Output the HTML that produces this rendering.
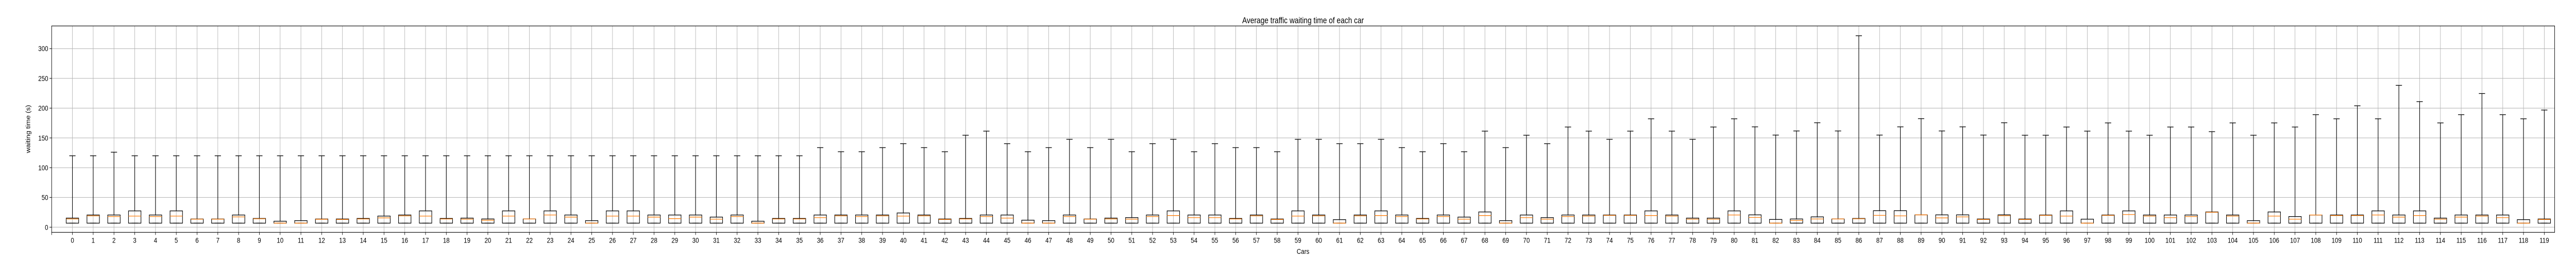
<!DOCTYPE html>
<html><head><meta charset="utf-8"><title>Average traffic waiting time of each car</title>
<style>
html,body{margin:0;padding:0;background:#fff;width:100vw;height:100vh;overflow:hidden;}
svg{display:block;width:100vw;height:100vh;font-family:"Liberation Sans","DejaVu Sans",sans-serif;}
</style></head>
<body>
<svg id="chart" viewBox="0 0 6000 500" preserveAspectRatio="none" xmlns="http://www.w3.org/2000/svg">
<rect x="0" y="0" width="6000" height="500" fill="#fff"/>
<g id="grid"></g>
<g id="boxes"></g>
<rect x="120.3" y="50.3" width="5830" height="400" fill="none" stroke="#000" stroke-width="1.1"/>
<g id="xticks"></g>
<g id="yticks"></g>
<text x="3035" y="45" text-anchor="middle" font-size="16.5" fill="#000">Average traffic waiting time of each car</text>
<text x="3035" y="492" text-anchor="middle" font-size="13.9" fill="#000">Cars</text>
<text x="0" y="0" transform="translate(70,250) rotate(-90)" text-anchor="middle" font-size="13.9" fill="#000">waiting time (s)</text>
</svg>
<script>
const cars = Array.from({length:120}, (_, i) => String(i));
const whiskerHigh = [120,120,126,120,120,120,120,120,120,120,120,120,120,120,120,120,120,120,120,120,120,120,120,120,120,120,120,120,120,120,120,120,120,120,120,120,
133.7,126.8,126.8,133.7,140.3,133.7,126.8,154.5,161.4,140.3,126.8,133.7,147.6,133.7,147.6,126.8,140.3,147.6,126.8,140.3,133.7,133.7,126.8,147.6,147.6,140.3,140.3,147.6,133.7,126.8,140.3,126.8,161.4,133.7,154.5,140.3,168.3,161.4,147.6,161.4,182.1,161.4,147.6,168.3,182.1,168.6,154.8,161.7,175.5,161.7,321.6,154.8,168.6,182.4,161.7,168.6,154.8,175.5,154.5,154.5,168.3,161.4,175.2,161.4,154.5,168.3,168.3,160.5,175.2,154.5,175.2,168.3,189,182.1,204,182.1,238.3,211,175.2,189,224.5,189,182.1,196.8];
const q3 = [15.3,20.5,20.5,27.4,20.5,27.4,13.8,13.8,20.5,14.7,10.1,11,13.8,13.8,14.7,18.7,20.5,27.4,14.7,15.3,13.8,27.4,13.8,27.4,20.5,11,27.4,27.4,20.5,20.5,20.5,17,20.5,10.1,14.7,14.7,20.5,20.5,20.5,20.5,23.9,20.5,13.8,14.7,20.5,20.5,11.8,11,20.5,13.8,15.3,16.1,20.5,27.4,20.5,20.5,14.7,20.5,13.8,27.4,20.5,12.7,20.5,27.4,20.5,14.7,20.5,17,25.6,11,20.5,16.1,20.5,20.5,20.5,20.5,27.4,20.5,15.3,15.3,27.4,20.7,13,13.8,17.3,13.8,14.7,27.7,27.7,20.7,20.7,20.7,13.8,20.7,13.8,20.5,27.4,13.5,20.5,27.4,20.5,20.5,20.5,25.6,20.5,11,25.6,17.9,20.5,20.5,20.5,27.4,20.5,27.4,15.3,20.5,20.5,20.5,12.7,13.8];
const median = [13.8,19,17.9,18.7,17.9,18.7,13.5,13.5,17.3,14.1,6.8,6.8,13.3,13,13.8,15.6,19,18.7,13.8,13.5,11.8,18.7,13.8,20.5,17,6.8,18.7,18.7,17,14.4,17,13.5,17.9,6.8,13.8,13.8,16.1,19,17.9,19,18.7,19,13,13.8,17.9,15.3,6.8,6.8,17.9,13.5,13.8,13.5,17.9,19.6,16.1,16.1,13.8,19,13,18.7,19,6.8,19,19.6,17.9,13.8,17.9,13.5,19.6,6.8,16.1,13.5,17.9,18.7,19.9,19.9,19.6,18.7,13.5,13.5,20.5,16.4,6.8,11.2,13.8,13.8,14.1,19.9,19,20.7,15.6,17.3,13,19.3,13,19.9,18.7,6.8,19.9,21.3,18.7,16.1,17.9,25.1,18.7,6.8,18.7,13.5,20.5,19.6,19.6,20.5,17,19.6,13.5,17,18.7,16.1,6.8,13];
const q1 = Array(120).fill(6.8);
const whiskerLow = Array(120).fill(6.8);
const yTicks = [0,50,100,150,200,250,300];

const NS = "http://www.w3.org/2000/svg";
const L = 120.3, T = 50.3, R = 5950.3, B = 450.3;
const yMin = -8.67, yMax = 338.1;
const step = (R - L) / 120.5;
function xs(i){ return L + (i + 1) * step; }
function ys(v){ return B - (v - yMin) / (yMax - yMin) * (B - T); }
function mk(tag, attrs, parent){
  const e = document.createElementNS(NS, tag);
  for (const k in attrs) e.setAttribute(k, attrs[k]);
  parent.appendChild(e);
  return e;
}
const grid = document.getElementById('grid');
const boxes = document.getElementById('boxes');
const xt = document.getElementById('xticks');
const yt = document.getElementById('yticks');

yTicks.forEach(v => {
  const y = ys(v);
  const g = mk('line', {x1:L, x2:R, y1:y, y2:y, stroke:'#b0b0b0', 'stroke-width':1}, grid);
  
  
  const t = mk('line', {x1:L-5, x2:L, y1:y, y2:y, stroke:'#000', 'stroke-width':1}, yt);
  
  
  const lb = mk('text', {x:L-8, y:y+5, 'text-anchor':'end', 'font-size':13.9, fill:'#000'}, yt);
  lb.textContent = v;
  
  
});
const t0 = mk('line', {x1:L, x2:L, y1:B, y2:B+5, stroke:'#000', 'stroke-width':1}, xt);



cars.forEach((c, i) => {
  const x = xs(i);
  const g = mk('line', {x1:x, x2:x, y1:T, y2:B, stroke:'#b0b0b0', 'stroke-width':1}, grid);
  
  
  const t = mk('line', {x1:x, x2:x, y1:B, y2:B+5, stroke:'#000', 'stroke-width':1}, xt);
  
  
  const lb = mk('text', {x:x, y:B+20, 'text-anchor':'middle', 'font-size':13.9, fill:'#000'}, xt);
  lb.textContent = c;
  
  

  const grp = mk('g', {}, boxes);
  
  
  const bw = 0.6 * step, cw = 0.3 * step;
  mk('line', {x1:x, x2:x, y1:ys(whiskerHigh[i]), y2:ys(q3[i]), stroke:'#000', 'stroke-width':1.3}, grp);
  mk('line', {x1:x, x2:x, y1:ys(q1[i]), y2:ys(whiskerLow[i]), stroke:'#000', 'stroke-width':1.3}, grp);
  mk('line', {x1:x-cw/2, x2:x+cw/2, y1:ys(whiskerHigh[i]), y2:ys(whiskerHigh[i]), stroke:'#000', 'stroke-width':1.3}, grp);
  mk('line', {x1:x-cw/2, x2:x+cw/2, y1:ys(whiskerLow[i]), y2:ys(whiskerLow[i]), stroke:'#000', 'stroke-width':1.3}, grp);
  const box = mk('rect', {x:x-bw/2, y:ys(q3[i]), width:bw, height:Math.max(0.5, ys(q1[i])-ys(q3[i])), fill:'none', stroke:'#000', 'stroke-width':1.3}, grp);
  
  
  const med = mk('line', {x1:x-bw/2, x2:x+bw/2, y1:ys(median[i]), y2:ys(median[i]), stroke:'#ff7f0e', 'stroke-width':1.3}, grp);
  
  
});
</script>
</body></html>
